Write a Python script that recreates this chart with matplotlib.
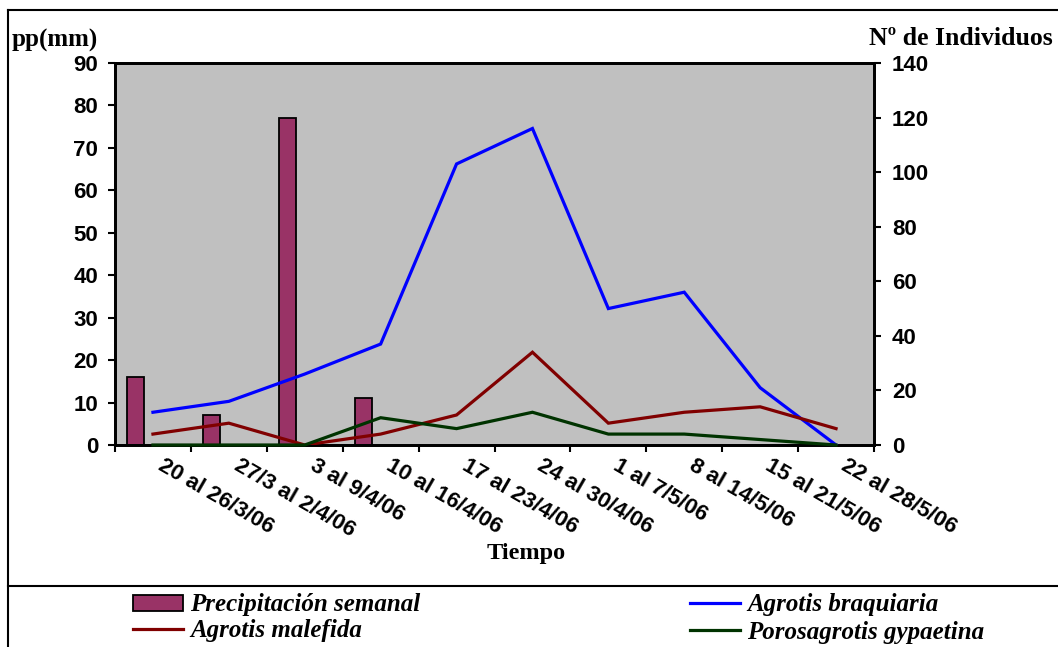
import matplotlib
matplotlib.use("Agg")
import matplotlib.pyplot as plt
from matplotlib.lines import Line2D
from matplotlib.patches import Patch
from matplotlib.transforms import ScaledTranslation
import numpy as np

W, H = 1058, 647

categories = ["20 al 26/3/06", "27/3 al 2/4/06", "3 al 9/4/06", "10 al 16/4/06",
              "17 al 23/4/06", "24 al 30/4/06", "1 al 7/5/06", "8 al 14/5/06",
              "15 al 21/5/06", "22 al 28/5/06"]
precipitacion = [16, 7, 77, 11, 0, 0, 0, 0, 0, 0]
agrotis_braquiaria = [12, 16, 26, 37, 103, 116, 50, 56, 21, 0]
agrotis_malefida = [4, 8, 0, 4, 11, 34, 8, 12, 14, 6]
porosagrotis_gypaetina = [0, 0, 0, 10, 6, 12, 4, 4, 2, 0]
left_ticks = list(range(0, 91, 10))
right_ticks = list(range(0, 141, 20))

C_BAR = "#993366"
C_BLUE = "#0000FF"
C_RED = "#800000"
C_GREEN = "#003300"

SANS = "Liberation Sans"
SERIF = "Liberation Serif"

fig = plt.figure(figsize=(W / 100, H / 100), dpi=100)
fig.patch.set_facecolor("white")

x0, x1, y0, y1 = 115, 874, 63, 445
ax = fig.add_axes([x0 / W, 1 - y1 / H, (x1 - x0) / W, (y1 - y0) / H])
ax.set_facecolor("#C0C0C0")
ax2 = ax.twinx()

x = np.arange(len(categories))
nz = [i for i, v in enumerate(precipitacion) if v > 0]
ax.bar(x[nz] - 0.23, [precipitacion[i] for i in nz], width=0.224,
       color=C_BAR, edgecolor="black", linewidth=1.3, zorder=2)

ax2.plot(x, agrotis_braquiaria, color=C_BLUE, lw=2.3, solid_joinstyle="miter", zorder=3)
ax2.plot(x, agrotis_malefida, color=C_RED, lw=2.3, solid_joinstyle="miter", zorder=3)
ax2.plot(x, porosagrotis_gypaetina, color=C_GREEN, lw=2.3, solid_joinstyle="miter",
         zorder=3, clip_on=False)

ax.set_xlim(-0.5, len(categories) - 0.5)
ax.set_ylim(0, 90)
ax2.set_ylim(0, 140)
ax.set_yticks(left_ticks)
ax2.set_yticks(right_ticks)

ax.set_xticks(x)
ax.set_xticks(np.arange(-0.5, len(categories), 1.0), minor=True)
ax.set_xticklabels(categories, rotation=-30, ha="left", va="top",
                   rotation_mode="anchor", fontfamily=SANS, fontweight="bold",
                   fontsize=16)
ax.tick_params(axis="x", which="major", length=0, pad=7)
ax.tick_params(axis="x", which="minor", length=5, width=1.5, direction="out")
ax.tick_params(axis="y", length=5, width=1.5, direction="out", pad=7)
ax2.tick_params(axis="y", length=5, width=1.5, direction="out", pad=8)
offset = ScaledTranslation(12 / 100, 0, fig.dpi_scale_trans)
for lab in ax.get_xticklabels():
    lab.set_transform(lab.get_transform() + offset)
for lab in ax.get_yticklabels():
    lab.set_fontfamily(SANS); lab.set_fontweight("bold"); lab.set_fontsize(16)
for lab in ax2.get_yticklabels():
    lab.set_fontfamily(SANS); lab.set_fontweight("bold"); lab.set_fontsize(16)

for a in (ax, ax2):
    for s in a.spines.values():
        s.set_linewidth(2)
        s.set_color("black")
ax2.patch.set_visible(False)

# Axis titles
fig.text(12 / W, 1 - 47 / H, "pp(mm)", fontfamily=SERIF, fontweight="bold",
         fontsize=18, ha="left", va="baseline")
fig.text(869 / W, 1 - 45 / H, "Nº de Individuos", fontfamily=SERIF, fontweight="bold",
         fontsize=18.5, ha="left", va="baseline")
fig.text(526 / W, 1 - 559 / H, "Tiempo", fontfamily=SERIF, fontweight="bold",
         fontsize=17.5, ha="center", va="baseline")

# Frame lines
lw_frame = 1.5
fig.add_artist(Line2D([8 / W, 8 / W], [0, 1 - 10 / H], transform=fig.transFigure,
                      color="black", lw=lw_frame))
fig.add_artist(Line2D([8 / W, 1], [1 - 10 / H, 1 - 10 / H], transform=fig.transFigure,
                      color="black", lw=lw_frame))
fig.add_artist(Line2D([8 / W, 1], [1 - 586 / H, 1 - 586 / H], transform=fig.transFigure,
                      color="black", lw=lw_frame))

# Legend
fs_leg = 18
leg_font = dict(family=SERIF, weight="bold", style="italic", size=fs_leg)
entries = [
    (Patch(facecolor=C_BAR, edgecolor="black", linewidth=1.3), "Precipitación semanal", 133, 605),
    (Line2D([], [], color=C_RED, lw=2.3), "Agrotis malefida", 133, 631),
    (Line2D([], [], color=C_BLUE, lw=2.3), "Agrotis braquiaria", 690, 605),
    (Line2D([], [], color=C_GREEN, lw=2.3), "Porosagrotis gypaetina", 690, 632),
]
px_per_em = fs_leg * 100 / 72
for h, lab, lx, ly in entries:
    lg = fig.legend([h], [lab], loc="center left", bbox_to_anchor=(lx / W, 1 - ly / H),
                    bbox_transform=fig.transFigure, frameon=False, borderpad=0,
                    borderaxespad=0, handlelength=50 / px_per_em,
                    handleheight=15 / px_per_em, handletextpad=7 / px_per_em,
                    prop=leg_font)

fig.savefig("out.png", dpi=100)
